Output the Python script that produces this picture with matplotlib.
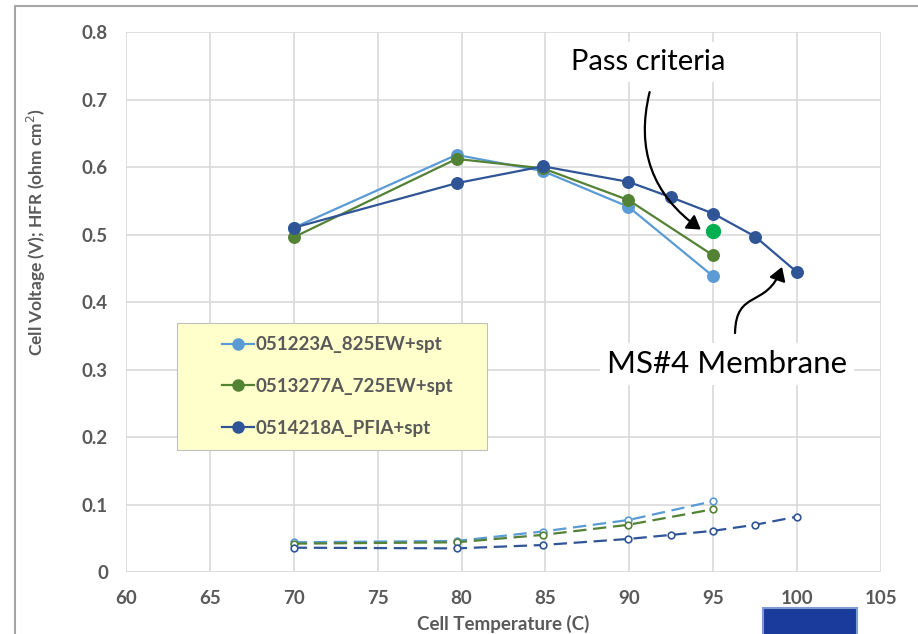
import matplotlib
matplotlib.use('Agg')
import matplotlib.pyplot as plt
from matplotlib.patches import Rectangle, FancyArrowPatch
from matplotlib.lines import Line2D
from matplotlib.path import Path


#%% Data

temp_a = [70, 79.7, 84.85, 89.95, 95]
volt_a = [0.510, 0.618, 0.594, 0.541, 0.438]
hfr_a = [0.044, 0.046, 0.060, 0.077, 0.105]

temp_b = [70, 79.7, 84.85, 89.95, 95]
volt_b = [0.496, 0.612, 0.598, 0.551, 0.469]
hfr_b = [0.042, 0.044, 0.055, 0.070, 0.093]

temp_c = [70, 79.7, 84.85, 89.95, 92.5, 95, 97.5, 100]
volt_c = [0.510, 0.576, 0.601, 0.578, 0.555, 0.531, 0.497, 0.444]
hfr_c = [0.036, 0.035, 0.040, 0.049, 0.055, 0.061, 0.070, 0.082]

labels = ['051223A_825EW+spt', '0513277A_725EW+spt', '0514218A_PFIA+spt']
colors = ['#5b9bd5', '#548235', '#2f5597']

pass_temp = 95
pass_volt = 0.505

x_ticks = list(range(60, 106, 5))
y_ticks = [0, 0.1, 0.2, 0.3, 0.4, 0.5, 0.6, 0.7, 0.8]
y_tick_labels = ['0', '0.1', '0.2', '0.3', '0.4', '0.5', '0.6', '0.7', '0.8']


#%% Figure

plt.rcParams['font.family'] = ['Lato', 'DejaVu Sans']
grey = '#595959'

fig = plt.figure(figsize=(9.18, 6.34), dpi=100)
ax = fig.add_axes([126 / 918, 1 - 572 / 634, 755 / 918, 540 / 634])

series = [(temp_a, volt_a, hfr_a), (temp_b, volt_b, hfr_b),
          (temp_c, volt_c, hfr_c)]

for (t, v, h), lab, col in zip(series, labels, colors):
    ax.plot(t, v, '-o', color=col, lw=1.6, ms=8.3, label=lab, zorder=3)
    ax.plot(t, h, '--o', color=col, lw=1.6, ms=4.8, mfc='white',
            mec=col, mew=1.2, dashes=(6, 3), zorder=3)

ax.plot([pass_temp], [pass_volt], 'o', color='#00b050', ms=10, zorder=4)

ax.set_xlim(60, 105)
ax.set_ylim(0, 0.8)
ax.set_xticks(x_ticks)
ax.set_yticks(y_ticks)
ax.set_yticklabels(y_tick_labels)
ax.grid(True, color='#d9d9d9', lw=1.2)
ax.set_axisbelow(True)
for s in ax.spines.values():
    s.set_visible(False)
ax.tick_params(length=0, labelsize=13.5, labelcolor=grey)
ax.tick_params(axis='y', pad=13)
ax.tick_params(axis='x', pad=13)
for lbl in ax.get_xticklabels() + ax.get_yticklabels():
    lbl.set_fontweight('bold')

ax.set_xlabel('Cell Temperature (C)', fontsize=13.5, fontweight='bold',
              color=grey)
ax.set_ylabel('Cell Voltage (V); HFR (ohm cm$^2$)', fontsize=12.5,
              fontweight='bold', color=grey)
ax.xaxis.set_label_coords(0.499, -0.08)
ax.yaxis.set_label_coords(-0.103, 0.63)

# legend box
ax.add_patch(Rectangle((0.0675, 0.226), 0.411, 0.235, transform=ax.transAxes,
                       facecolor='#ffffcc', edgecolor='#bfbfbf', lw=0.8,
                       zorder=2))
handles = [Line2D([], [], color=c, marker='o', lw=1.6, ms=8) for c in colors]
leg = ax.legend(handles, labels, loc='upper left',
                bbox_to_anchor=(0.105, 0.468), frameon=False,
                handlelength=1.7, handletextpad=0.1, labelspacing=1.32,
                prop={'family': 'Lato', 'weight': 'bold', 'size': 13.5})
for txt in leg.get_texts():
    txt.set_color(grey)
leg.set_zorder(5)

# annotations
ax.text(86.55, 0.755, 'Pass criteria', fontsize=21, color='black',
        ha='left', va='center', zorder=6,
        bbox=dict(facecolor='white', edgecolor='none', pad=5))
ax.add_patch(FancyArrowPatch((91.25, 0.715), (94.4, 0.505),
                             connectionstyle='arc3,rad=0.35',
                             arrowstyle='-|>,head_length=8,head_width=5',
                             color='black', lw=1.6, zorder=6))

ax.text(88.65, 0.308, 'MS#4 Membrane', fontsize=22.5, color='black',
        ha='left', va='center', zorder=6,
        bbox=dict(facecolor='white', edgecolor='none', pad=5))
ms_path = Path([(96.3, 0.354), (96.35, 0.42), (98.2, 0.39), (99.1, 0.452)],
               [Path.MOVETO, Path.CURVE4, Path.CURVE4, Path.CURVE4])
ax.add_patch(FancyArrowPatch(path=ms_path,
                             arrowstyle='-|>,head_length=8,head_width=5',
                             color='black', lw=1.6, zorder=6,
                             transform=ax.transData))

# outer chart frame (cropped)
fig.add_artist(Line2D([15 / 918, 15 / 918, 1], [0, 1 - 6 / 634, 1 - 6 / 634],
                      color='#a6a6a6', lw=1.5, transform=fig.transFigure))

# cropped logo box at bottom right
fig.add_artist(Rectangle((763 / 918, -0.01), 94 / 918, 26 / 634 + 0.01,
                         transform=fig.transFigure, facecolor='#1b3b9c',
                         edgecolor='#7f9bd1', lw=1.5))

fig.savefig('out.png', dpi=100)
